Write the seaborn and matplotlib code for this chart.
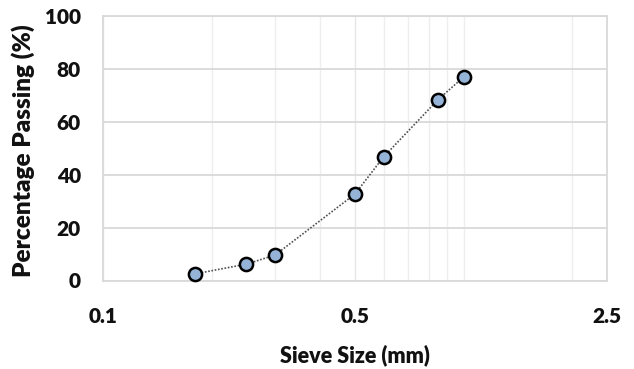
import matplotlib
matplotlib.use("Agg")
import matplotlib.pyplot as plt
import matplotlib.ticker as mticker
import seaborn as sns
import pandas as pd

sieve_size = [0.18, 0.25, 0.3, 0.5, 0.6, 0.85, 1.0]
percent_passing = [2.5, 6.2, 9.6, 32.7, 46.7, 68.4, 76.9]
x_major_ticks = [0.1, 0.5, 2.5]
x_minor_ticks = [0.2, 0.3, 0.4, 0.6, 0.7, 0.8, 0.9, 1.0, 2.0]
y_ticks = [0, 20, 40, 60, 80, 100]

df = pd.DataFrame({"size": sieve_size, "passing": percent_passing})

sns.set_theme(style="white")
plt.rcParams['font.family'] = ['Lato', 'DejaVu Sans']

fig = plt.figure(figsize=(6.34, 3.69), dpi=100)
ax = fig.add_axes([103/634, 1 - 280.5/369, 504/634, 264.5/369])

ax.set_xscale('log', base=5)
ax.set_xlim(0.1, 2.5)
ax.set_ylim(0, 100)

ax.xaxis.set_major_locator(mticker.FixedLocator(x_major_ticks))
ax.xaxis.set_minor_locator(mticker.FixedLocator(x_minor_ticks))
ax.xaxis.set_major_formatter(mticker.FixedFormatter([str(t) for t in x_major_ticks]))
ax.xaxis.set_minor_formatter(mticker.NullFormatter())
ax.yaxis.set_major_locator(mticker.FixedLocator(y_ticks))

ax.grid(True, which='major', axis='y', color='#D9D9D9', linewidth=1.3)
ax.grid(True, which='major', axis='x', color='#E6E6E6', linewidth=1.0)
ax.grid(True, which='minor', axis='x', color='#EEEEEE', linewidth=1.0)
ax.set_axisbelow(True)

sns.lineplot(data=df, x="size", y="passing", ax=ax, color='#505050',
             linestyle=(0, (1, 1)), linewidth=1.2, marker='o',
             markersize=9.5, markerfacecolor='#95B3D7', markeredgecolor='black',
             markeredgewidth=1.8, zorder=3, clip_on=False)

for s in ax.spines.values():
    s.set_color('#D9D9D9')
    s.set_linewidth(1.3)

ax.tick_params(axis='both', which='both', length=0)
ax.tick_params(axis='y', pad=16, labelsize=15)
ax.tick_params(axis='x', pad=19, labelsize=15)
for lbl in ax.get_xticklabels() + ax.get_yticklabels():
    lbl.set_fontweight('heavy')
    lbl.set_color('#111111')

ax.set_xlabel("Sieve Size (mm)", fontsize=15.5, fontweight='heavy', color='#111111', va='center')
ax.set_ylabel("Percentage Passing (%)", fontsize=17.5, fontweight='heavy', color='#111111', va='center')
ax.xaxis.set_label_coords(0.5, (280.5 - 355) / 264.5)
ax.yaxis.set_label_coords((23 - 103) / 504, (280.5 - 151) / 264.5)

fig.savefig("out.png", dpi=100)
